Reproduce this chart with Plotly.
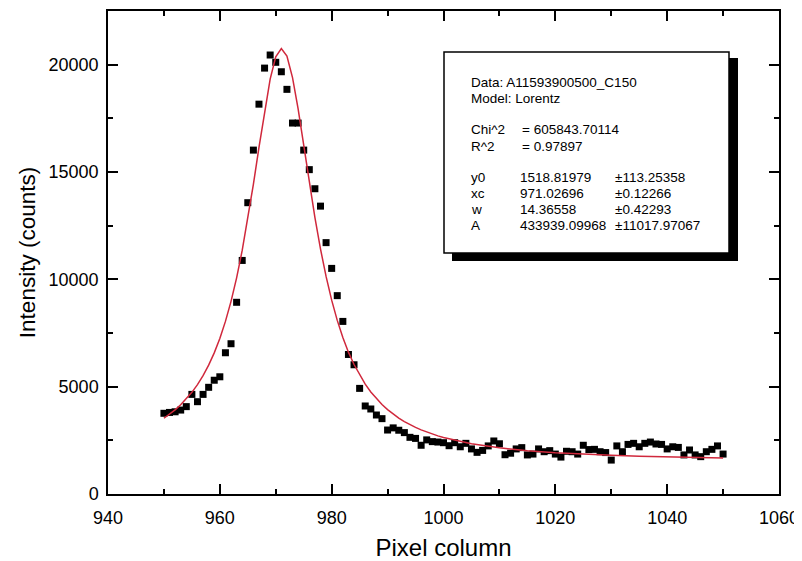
import plotly.graph_objects as go

# ---- data ----
pixel_x = list(range(950, 1051))
intensity = [
    3760, 3800, 3830, 3910, 4070, 4640, 4300, 4640, 4970, 5300,   # 950-959
    5460, 6580, 7000, 8930, 10880, 13570, 16020, 18160, 19840, 20450,  # 960-969
    20110, 19670, 18850, 17280, 17280, 16020, 15110, 14220, 13410, 11710,  # 970-979
    10510, 9240, 8040, 6500, 6020, 4920, 4100, 3960, 3680, 3510,  # 980-989
    2980, 3080, 2970, 2860, 2640, 2590, 2270, 2520, 2440, 2420,  # 990-999
    2390, 2250, 2390, 2200, 2360, 2100, 1940, 2030, 2240, 2470,  # 1000-1009
    2340, 1830, 1900, 2100, 2160, 1820, 1860, 2100, 1970, 2020,  # 1010-1019
    1860, 1720, 1990, 1970, 1860, 2270, 2070, 2080, 1970, 1930,  # 1020-1029
    1580, 2240, 1970, 2310, 2360, 2200, 2360, 2420, 2330, 2310,  # 1030-1039
    2100, 2200, 2170, 1820, 2050, 1820, 1740, 1970, 2080, 2240,  # 1040-1049
    1860,  # 1050
]

fit_x = list(range(950, 1001)) + [1005, 1010, 1015, 1020, 1025, 1030, 1035, 1040, 1045, 1050]
fit_y = [
    3529, 3711, 3918, 4154, 4424, 4735, 5096, 5514, 6002, 6574,
    7247, 8041, 8975, 10070, 11345, 12803, 14429, 16152, 17850, 19331,
    20363, 20749, 20402, 19400, 17936, 16244, 14518, 12887, 11418, 10135,
    9029, 8087, 7287, 6608, 6031, 5538, 5117, 4754, 4440, 4167,
    3930, 3721, 3538, 3375, 3231, 3103, 2988, 2885, 2792, 2708,
    2632,
    2342, 2151, 2019, 1924, 1853, 1800, 1758, 1725, 1698, 1677,
]

x_ticks = [940, 960, 980, 1000, 1020, 1040, 1060]
y_ticks = [0, 5000, 10000, 15000, 20000]

info_left = ["Data: A11593900500_C150", "Model: Lorentz", "Chi^2", "R^2", "y0", "xc", "w", "A"]
info_mid = ["", "", "= 605843.70114", "= 0.97897", "1518.81979", "971.02696", "14.36558", "433939.09968"]
info_right = ["", "", "", "", "±113.25358", "±0.12266", "±0.42293", "±11017.97067"]

FONT = "Arial, 'Liberation Sans', Helvetica, sans-serif"

fig = go.Figure()
fig.add_trace(go.Scatter(
    x=pixel_x, y=intensity, mode="markers",
    marker=dict(symbol="square", size=7, color="black"),
    showlegend=False,
))
fig.add_trace(go.Scatter(
    x=fit_x, y=fit_y, mode="lines",
    line=dict(color="#d0283c", width=1.5),
    showlegend=False,
))

# page body has an 8px margin -> figure starts at (8, 8) in the window
OFF = 8
FIG_W, FIG_H = 802 - OFF, 561 - OFF
# plot-area pixel geometry in window coordinates
L, R, T, B = 108, 779, 11, 494
W, H = R - L, B - T


def px(x):
    return (x - L) / W


def py(y):
    return (B - y) / H


# shadow + info box
fig.add_shape(type="rect", xref="paper", yref="paper",
              x0=px(452), x1=px(738), y0=py(261), y1=py(58),
              fillcolor="black", line=dict(width=0), layer="above")
fig.add_shape(type="rect", xref="paper", yref="paper",
              x0=px(444), x1=px(729), y0=py(253), y1=py(52),
              fillcolor="white", line=dict(color="black", width=1.5), layer="above")

rows_y = [82, 98, 130, 146, 177, 193, 209, 225]
for i, yy in enumerate(rows_y):
    for txt, xx in ((info_left[i], 472), (info_mid[i], 521 if i >= 4 else 523), (info_right[i], 616)):
        if txt:
            fig.add_annotation(text=txt, xref="paper", yref="paper",
                               x=px(xx), y=py(yy), xanchor="left", yanchor="middle",
                               xshift=-3,
                               showarrow=False, font=dict(family=FONT, size=13.5, color="black"))

axis_common = dict(
    showline=True, linecolor="black", linewidth=1.5, mirror="ticks",
    ticks="inside", ticklen=10, tickwidth=1.5, tickcolor="black",
    showgrid=False, zeroline=False, automargin=False,
    tickfont=dict(family=FONT, size=18, color="black"),
)

fig.update_xaxes(
    range=[940, 1060], tickvals=x_ticks, ticktext=[str(v) for v in x_ticks],
    title=dict(text="Pixel column", font=dict(family=FONT, size=24, color="black"), standoff=12),
    minor=dict(ticks="inside", ticklen=5, tickwidth=1.5, tickcolor="black", dtick=10, tick0=940, showgrid=False),
    ticklabelstandoff=7,
    **axis_common,
)
fig.update_yaxes(
    range=[0, 22500], tickvals=y_ticks, ticktext=[str(v) for v in y_ticks],
    title=dict(text="Intensity (counts)", font=dict(family=FONT, size=22.5, color="black"), standoff=7),
    minor=dict(ticks="inside", ticklen=5, tickwidth=1.5, tickcolor="black", dtick=2500, tick0=0, showgrid=False),
    ticklabelstandoff=4,
    **axis_common,
)

fig.update_layout(
    width=FIG_W, height=FIG_H,
    margin=dict(l=L - OFF, r=802 - R, t=T - OFF, b=561 - B),
    paper_bgcolor="white", plot_bgcolor="white",
    font=dict(family=FONT, color="black"),
)

fig.write_html("out.html")
